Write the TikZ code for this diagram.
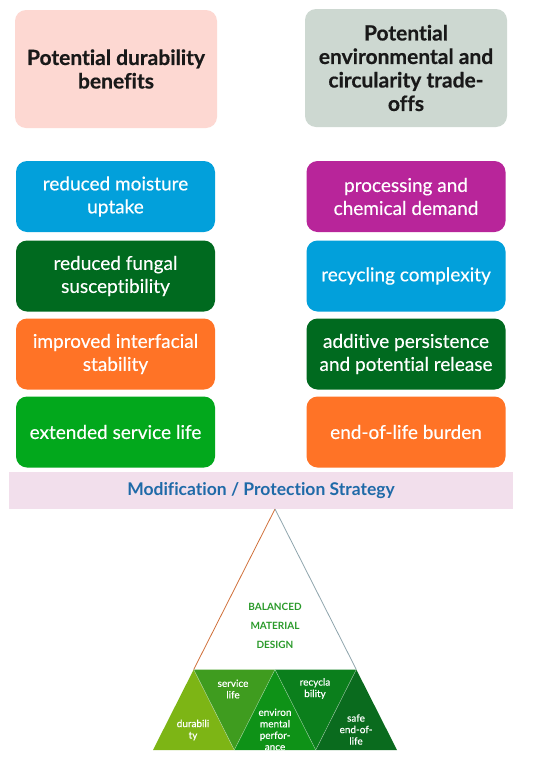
\documentclass[tikz,border=0pt]{standalone}
\usepackage{fontspec}
\setmainfont{Lato}[Ligatures={NoCommon}]
\definecolor{hpink}{HTML}{FDD8D2}
\definecolor{hgrey}{HTML}{CDD8D1}
\definecolor{cblue}{HTML}{02A0DB}
\definecolor{cdkgreen}{HTML}{006A1F}
\definecolor{corange}{HTML}{FF7326}
\definecolor{cgreen}{HTML}{02A81C}
\definecolor{cmagenta}{HTML}{B8259A}
\definecolor{cbar}{HTML}{F2DFEC}
\definecolor{cbartext}{HTML}{1F6AA8}
\definecolor{tA}{HTML}{7DB515}
\definecolor{tB}{HTML}{3F9C1F}
\definecolor{tC}{HTML}{0E9217}
\definecolor{tD}{HTML}{0B7F1C}
\definecolor{tE}{HTML}{0A6B1E}
\definecolor{tgreentext}{HTML}{2A9A2A}
\definecolor{edgeL}{HTML}{D0703A}
\definecolor{edgeR}{HTML}{8FA5AD}
\begin{document}
\begin{tikzpicture}[x=1pt,y=-1pt,
  hdr/.style={rounded corners=11pt, minimum width=202pt, minimum height=118pt,
    inner sep=0pt, align=center, text=black!90,
    font={\fontsize{21}{23.5}\selectfont\bfseries\addfontfeature{FakeBold=0.5}}},
  itembox/.style={rounded corners=11pt, minimum width=199pt, minimum height=71pt,
    inner sep=0pt, align=center, text=white,
    font={\fontsize{19}{23}\selectfont\addfontfeature{FakeBold=0.35}}},
  tritext/.style={align=center, text=white, inner sep=0pt,
    font={\fontsize{10}{11.5}\selectfont\addfontfeature{FakeBold=0.3}}},
  sepline/.style={draw=white, draw opacity=0.45, line width=0.5pt}]
\useasboundingbox (0,0) rectangle (550,758);
\fill[white] (0,0) rectangle (550,758);

% headers
\node[hdr, fill=hpink] (hleft) at (116,69) {Potential durability\\benefits};
\node[hdr, fill=hgrey] (hright) at (406,68) {Potential\\environmental and\\circularity trade-\\offs};

% left column
\node[itembox, fill=cblue]    (l1) at (115.5,196.5) {reduced moisture\\uptake};
\node[itembox, fill=cdkgreen] (l2) at (115.5,276)   {reduced fungal\\susceptibility};
\node[itembox, fill=corange]  (l3) at (115.5,354)   {improved interfacial\\stability};
\node[itembox, fill=cgreen]   (l4) at (115.5,432)   {extended service life};

% right column
\node[itembox, fill=cmagenta] (r1) at (406,196.5) {processing and\\chemical demand};
\node[itembox, fill=cblue]    (r2) at (406,276)   {recycling complexity};
\node[itembox, fill=cdkgreen] (r3) at (406,354)   {additive persistence\\and potential release};
\node[itembox, fill=corange]  (r4) at (406,432)   {end-of-life burden};

% strategy bar
\node[fill=cbar, minimum width=504pt, minimum height=37pt, inner sep=0pt,
  text=cbartext, font={\fontsize{17.5}{19}\selectfont\bfseries}] (bar) at (261,490.5)
  {Modification / Protection Strategy};

% pyramid
\coordinate (apex) at (275,509);
\coordinate (ml) at (193.7,669.5);
\coordinate (mc) at (275,669.5);
\coordinate (mr) at (356.3,669.5);
\coordinate (b0) at (153,750);
\coordinate (b1) at (234.3,750);
\coordinate (b2) at (315.7,750);
\coordinate (b3) at (397,750);

\fill[white] (apex) -- (ml) -- (mr) -- cycle;
\fill[tA] (ml) -- (b0) -- (b1) -- cycle;
\fill[tB] (ml) -- (mc) -- (b1) -- cycle;
\fill[tC] (mc) -- (b1) -- (b2) -- cycle;
\fill[tD] (mc) -- (mr) -- (b2) -- cycle;
\fill[tE] (mr) -- (b2) -- (b3) -- cycle;
\draw[sepline] (ml) -- (b1) -- (mc) -- (b2) -- (mr);
\draw[edgeL, line width=0.8pt] (apex) -- (ml);
\draw[edgeR, line width=0.8pt] (apex) -- (mr);

\node[text=tgreentext, align=center, inner sep=0pt,
  font={\fontsize{10}{19}\selectfont\bfseries}] (design) at (275,626)
  {BALANCED\\MATERIAL\\DESIGN};

\node[tritext] (tdur) at (193,730) {durabili\\ty};
\node[tritext] (tsvc) at (233,689) {service\\life};
\node[tritext] (tenv) at (275,729.5) {environ\\mental\\perfor-\\ance};
\node[tritext] (trec) at (315,688.5) {recycla\\bility};
\node[tritext] (tsafe) at (356,729.5) {safe\\end-of-\\life};
\end{tikzpicture}
\end{document}
